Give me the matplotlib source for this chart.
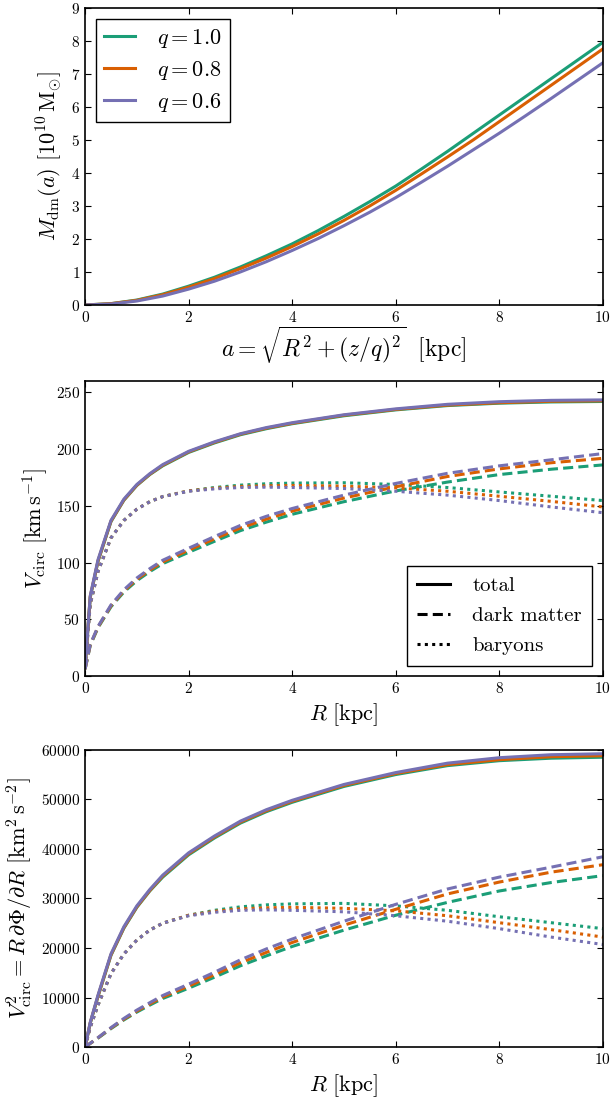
import matplotlib
matplotlib.use("Agg")
import matplotlib.pyplot as plt
from matplotlib.lines import Line2D

plt.rcParams["mathtext.fontset"] = "cm"
plt.rcParams["font.family"] = "serif"
plt.rcParams["font.serif"] = ["cmr10", "DejaVu Serif"]
plt.rcParams["axes.unicode_minus"] = False
plt.rcParams["axes.formatter.use_mathtext"] = True
plt.rcParams["xtick.direction"] = "in"
plt.rcParams["ytick.direction"] = "in"
plt.rcParams["xtick.top"] = True
plt.rcParams["ytick.right"] = True
plt.rcParams["xtick.major.size"] = 4
plt.rcParams["ytick.major.size"] = 4
plt.rcParams["xtick.labelsize"] = 11
plt.rcParams["ytick.labelsize"] = 11

q_labels = ["1.0", "0.8", "0.6"]
colors = ["#1b9e77", "#d95f02", "#7570b3"]

# panel 1: enclosed dark matter mass, 1e10 Msun
a_kpc = [0, 0.5, 1, 1.5, 2, 2.5, 3, 3.5, 4, 4.5, 5, 5.5, 6, 6.5, 7, 7.5, 8, 8.5, 9, 9.5, 10]
mdm = [
    [0, 0.04, 0.15, 0.33, 0.57, 0.84, 1.15, 1.49, 1.85, 2.25, 2.68, 3.13, 3.6, 4.12, 4.65, 5.2, 5.75, 6.3, 6.85, 7.4, 7.95],
    [0, 0.04, 0.14, 0.31, 0.54, 0.80, 1.10, 1.42, 1.77, 2.15, 2.56, 3.00, 3.47, 3.97, 4.48, 5.0, 5.55, 6.1, 6.65, 7.2, 7.75],
    [0, 0.03, 0.12, 0.27, 0.48, 0.72, 1.00, 1.31, 1.65, 2.01, 2.40, 2.81, 3.25, 3.72, 4.20, 4.7, 5.20, 5.72, 6.25, 6.79, 7.33],
]

R_kpc = [0, 0.1, 0.25, 0.5, 0.75, 1, 1.25, 1.5, 2, 2.5, 3, 3.5, 4, 5, 6, 7, 8, 9, 10]

# panel 2: circular velocity, km/s
v_tot = [
    [8, 69.3, 101.0, 136.0, 154.9, 167.9, 177.5, 185.2, 197.0, 205.4, 212.6, 217.9, 222.3, 229.3, 234.5, 238.3, 240.4, 241.5, 241.9],
    [8, 70.0, 101.5, 136.4, 155.2, 168.2, 177.8, 185.7, 197.5, 205.9, 213.1, 218.4, 222.7, 229.8, 234.9, 238.7, 240.8, 242.1, 242.5],
    [8, 70.7, 102.5, 137.1, 155.9, 168.8, 178.3, 186.3, 198.0, 206.4, 213.5, 218.9, 223.2, 230.2, 235.4, 239.4, 241.7, 242.9, 243.3],
]
v_dm = [
    [6, 27.0, 42.5, 61.0, 74.0, 84.0, 92.0, 99.0, 109.0, 118.7, 128.1, 135.6, 142.5, 153.6, 163.1, 170.9, 177.5, 182.2, 186.0],
    [6, 27.4, 43.1, 61.8, 75.0, 85.2, 93.3, 100.5, 110.9, 120.8, 130.4, 138.2, 145.3, 156.8, 166.7, 175.8, 182.5, 187.9, 191.8],
    [6, 27.8, 43.7, 62.6, 76.0, 86.4, 94.6, 102.0, 112.6, 122.9, 132.7, 140.7, 147.6, 159.4, 169.7, 178.6, 185.2, 190.5, 196.0],
]
v_bar = [
    [8, 63.2, 92.2, 121.7, 137.1, 147.0, 153.6, 158.1, 163.1, 166.1, 168.2, 169.4, 170.0, 170.3, 168.8, 166.1, 162.2, 158.4, 154.6],
    [8, 63.2, 92.2, 121.7, 137.1, 147.0, 153.6, 158.1, 163.1, 165.5, 167.0, 167.6, 167.9, 167.3, 165.8, 162.8, 158.4, 153.9, 149.0],
    [8, 63.2, 92.2, 121.7, 137.1, 147.0, 153.6, 158.1, 162.8, 164.9, 166.1, 166.4, 166.1, 165.2, 162.8, 159.4, 154.6, 149.0, 143.9],
]

# panel 3: V_circ^2, km^2/s^2
v2_tot = [
    [0, 4800, 10200, 18500, 24000, 28200, 31500, 34300, 38800, 42200, 45200, 47500, 49400, 52600, 55000, 56800, 57800, 58300, 58500],
    [0, 4900, 10300, 18600, 24100, 28300, 31600, 34500, 39000, 42400, 45400, 47700, 49600, 52800, 55200, 57000, 58000, 58600, 58800],
    [0, 5000, 10500, 18800, 24300, 28500, 31800, 34700, 39200, 42600, 45600, 47900, 49800, 53000, 55400, 57300, 58400, 59000, 59200],
]
v2_dm = [
    [0, 730, 1800, 3720, 5480, 7060, 8460, 9800, 11880, 14100, 16400, 18400, 20300, 23600, 26600, 29200, 31500, 33200, 34600],
    [0, 750, 1860, 3820, 5620, 7260, 8700, 10100, 12300, 14600, 17000, 19100, 21100, 24600, 27800, 30900, 33300, 35300, 36800],
    [0, 770, 1910, 3920, 5780, 7460, 8950, 10400, 12700, 15100, 17600, 19800, 21800, 25400, 28800, 31900, 34300, 36300, 38400],
]
v2_bar = [
    [0, 4000, 8500, 14800, 18800, 21600, 23600, 25000, 26600, 27600, 28300, 28700, 28900, 29000, 28500, 27600, 26300, 25100, 23900],
    [0, 4000, 8500, 14800, 18800, 21600, 23600, 25000, 26600, 27400, 27900, 28100, 28200, 28000, 27500, 26500, 25100, 23700, 22200],
    [0, 4000, 8500, 14800, 18800, 21600, 23600, 25000, 26500, 27200, 27600, 27700, 27600, 27300, 26500, 25400, 23900, 22200, 20700],
]

LW = 2.2
DASH = (3.3, 1.7)
DOT = (1.0, 1.4)

fig = plt.figure(figsize=(6.12, 11.01), dpi=100)
ax1 = fig.add_axes([0.139, 0.723, 0.846, 0.270])
ax2 = fig.add_axes([0.139, 0.386, 0.846, 0.268])
ax3 = fig.add_axes([0.139, 0.049, 0.846, 0.270])

for i in range(3):
    ax1.plot(a_kpc, mdm[i], color=colors[i], lw=LW, label=r"$q = %s$" % q_labels[i])
ax1.set_xlim(0, 10)
ax1.set_ylim(0, 9)
ax1.set_xlabel(r"$a = \sqrt{R^2 + (z/q)^2}\ \ [{\rm kpc}]$", fontsize=17, labelpad=0)
ax1.set_ylabel(r"$M_{\rm dm}(a)\ [10^{10}\,{\rm M}_{\odot}]$", fontsize=16)
leg1 = ax1.legend(loc="upper left", fontsize=16, fancybox=False, handlelength=1.4,
                  handletextpad=1.0, borderpad=0.35, labelspacing=0.42)
leg1.get_frame().set_edgecolor("black")
leg1.get_frame().set_alpha(1)

for i in range(3):
    ax2.plot(R_kpc, v_tot[i], color=colors[i], lw=LW)
    ax2.plot(R_kpc, v_dm[i], color=colors[i], lw=LW, dashes=DASH)
    ax2.plot(R_kpc, v_bar[i], color=colors[i], lw=LW, dashes=DOT)
ax2.set_xlim(0, 10)
ax2.set_ylim(0, 260)
ax2.set_yticks([0, 50, 100, 150, 200, 250])
ax2.set_xlabel(r"$R\ [{\rm kpc}]$", fontsize=16)
ax2.set_ylabel(r"$V_{\rm circ}\ [{\rm km\,s^{-1}}]$", fontsize=16)
handles = [Line2D([], [], color="black", lw=LW),
           Line2D([], [], color="black", lw=LW, dashes=DASH),
           Line2D([], [], color="black", lw=LW, dashes=DOT)]
leg2 = ax2.legend(handles, ["total", "dark matter", "baryons"], loc="lower right",
                  fontsize=15, fancybox=False, handlelength=1.6, handletextpad=1.05,
                  borderpad=0.5, labelspacing=0.55)
leg2.get_frame().set_edgecolor("black")
leg2.get_frame().set_alpha(1)

for i in range(3):
    ax3.plot(R_kpc, v2_tot[i], color=colors[i], lw=LW)
    ax3.plot(R_kpc, v2_dm[i], color=colors[i], lw=LW, dashes=DASH)
    ax3.plot(R_kpc, v2_bar[i], color=colors[i], lw=LW, dashes=DOT)
ax3.set_xlim(0, 10)
ax3.set_ylim(0, 60000)
ax3.set_xlabel(r"$R\ [{\rm kpc}]$", fontsize=16)
ax3.set_ylabel(r"$V_{\rm circ}^2 = R\,\partial\Phi/\partial R\ [{\rm km^2\,s^{-2}}]$", fontsize=16)

for ax in (ax1, ax2, ax3):
    for sp in ax.spines.values():
        sp.set_linewidth(1.2)

fig.savefig("out.png", dpi=100)
